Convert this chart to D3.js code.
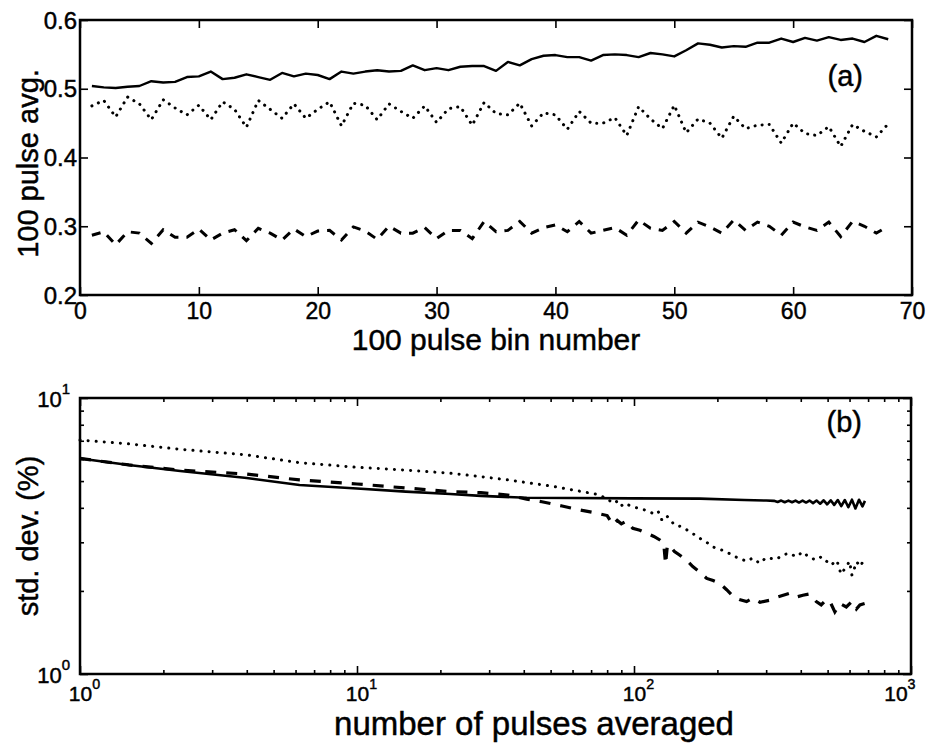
<!DOCTYPE html>
<html>
<head>
<meta charset="utf-8">
<script src="https://cdn.jsdelivr.net/npm/d3@7"></script>
<style>
  html, body { margin: 0; padding: 0; background: #fff; }
  svg { display: block; font-family: "Liberation Sans", Arial, Helvetica, sans-serif; }
  svg text { stroke: #000; stroke-width: 0.45px; fill: #000; }
</style>
</head>
<body>
<svg id="chart" width="928" height="744"></svg>
<script>
// ---------- Panel (a) data: 100 pulse bin number vs 100 pulse avg ----------
const binNumber = d3.range(1, 69);
const solidA = [0.504,0.502,0.501,0.503,0.504,0.511,0.509,0.510,0.517,0.518,
  0.525,0.514,0.516,0.521,0.517,0.513,0.523,0.518,0.522,0.520,
  0.514,0.525,0.522,0.525,0.527,0.525,0.526,0.534,0.527,0.530,
  0.527,0.532,0.533,0.533,0.526,0.539,0.534,0.543,0.548,0.549,
  0.546,0.546,0.541,0.549,0.550,0.549,0.546,0.552,0.550,0.547,
  0.556,0.566,0.564,0.560,0.562,0.561,0.567,0.567,0.573,0.568,
  0.574,0.570,0.575,0.571,0.573,0.568,0.577,0.572];
const dottedA = [0.475,0.483,0.459,0.488,0.478,0.455,0.484,0.472,0.462,0.476,
  0.455,0.481,0.470,0.444,0.483,0.470,0.457,0.478,0.457,0.470,
  0.481,0.446,0.479,0.476,0.455,0.478,0.467,0.457,0.475,0.451,
  0.471,0.474,0.447,0.480,0.464,0.462,0.479,0.446,0.465,0.462,
  0.441,0.467,0.450,0.450,0.458,0.432,0.474,0.456,0.442,0.476,
  0.436,0.456,0.450,0.428,0.460,0.442,0.447,0.448,0.421,0.450,
  0.435,0.432,0.445,0.416,0.448,0.438,0.430,0.449];
const dashedA = [0.287,0.292,0.273,0.292,0.290,0.275,0.295,0.284,0.284,0.296,
  0.280,0.290,0.295,0.279,0.297,0.290,0.280,0.296,0.285,0.293,
  0.294,0.280,0.299,0.293,0.281,0.300,0.290,0.290,0.298,0.282,
  0.294,0.294,0.282,0.307,0.292,0.294,0.307,0.290,0.298,0.302,
  0.292,0.307,0.290,0.294,0.298,0.287,0.309,0.297,0.294,0.307,
  0.290,0.306,0.299,0.290,0.309,0.294,0.306,0.300,0.287,0.306,
  0.299,0.294,0.306,0.285,0.307,0.300,0.290,0.300];
const xTicksA = [0,10,20,30,40,50,60,70];
const yTicksA = [0.2,0.3,0.4,0.5,0.6];

// ---------- Panel (b) data: number of pulses averaged vs std. dev. (%) ----------
const solidB = [[1,6.04],[1.5,5.72],[2.3,5.44],[4,5.13],[6.2,4.84],[10,4.70],[15,4.58],
  [21.7,4.49],[28,4.42],[41,4.35],[60,4.34],[100,4.33],[173,4.32],[250,4.27],[300,4.25],
  [320,4.24],[330,4.20],[340,4.25],[350,4.19],[361,4.25],[372,4.19],[383,4.25],[394,4.18],
  [406,4.25],[418,4.18],[430,4.25],[443,4.16],[456,4.25],[470,4.14],[484,4.26],[498,4.12],
  [513,4.26],[528,4.10],[544,4.27],[560,4.06],[577,4.27],[594,4.02],[612,4.28],[630,3.98],
  [649,4.28],[668,4.05],[682,4.24]];
const dottedB = [[1,7.04],[1.5,6.82],[2.3,6.52],[4,6.22],[6.2,5.83],[10,5.61],[15,5.48],
  [21.7,5.34],[28,5.19],[35,5.05],[50,4.80],[62,4.62],[73,4.48],[80,4.32],[84,4.15],
  [88,4.25],[91,4.05],[94,4.12],[100,4.02],[105,3.98],[110,3.92],[117,3.82],[122,3.90],
  [126,3.62],[131,3.75],[140,3.47],[148,3.42],[155,3.33],[165,3.20],[173,3.10],[183,3.00],
  [192,2.89],[204,2.83],[216,2.77],[228,2.68],[241,2.62],[255,2.56],[268,2.63],[284,2.52],
  [300,2.64],[326,2.60],[345,2.70],[364,2.74],[385,2.66],[407,2.77],[430,2.64],[455,2.59],
  [475,2.66],[514,2.48],[540,2.58],[559,2.30],[584,2.45],[600,2.56],[612,2.28],[637,2.55],
  [655,2.45],[670,2.55],[680,2.48]];
const dashedB = [[1,6.04],[1.5,5.72],[2.3,5.48],[4,5.30],[6.2,5.05],[10,4.88],[15,4.72],
  [21.7,4.58],[28,4.54],[35,4.45],[41,4.30],[46.5,4.21],[55,4.06],[63.6,3.93],[74,3.82],
  [80,3.75],[84,3.47],[87,3.60],[90,3.50],[94,3.58],[99,3.37],[105,3.32],[111,3.24],
  [118,3.15],[124,3.06],[128,2.98],[130,2.50],[132,2.93],[135,2.90],[140,2.78],[146,2.70],
  [155,2.58],[163,2.45],[172,2.35],[183,2.22],[193,2.18],[204,2.13],[216,2.02],[228,1.91],
  [240,1.86],[255,1.83],[268,1.88],[285,1.82],[309,1.85],[330,1.90],[364,1.96],[385,1.90],
  [407,1.93],[430,1.95],[455,1.83],[474,1.78],[495,1.86],[510,1.83],[531,1.68],[554,1.80],
  [584,1.75],[612,1.83],[635,1.72],[654,1.78],[680,1.80]];
const xMajorB = [1,10,100,1000];
const yMajorB = [1,10];

// ---------- drawing ----------
const svg = d3.select("#chart");
const FRAME_W = 2.5;

function frame(g, x0, y0, x1, y1) {
  g.append("rect").attr("x", x0).attr("y", y0)
    .attr("width", x1 - x0).attr("height", y1 - y0)
    .attr("fill", "none").attr("stroke", "#000").attr("stroke-width", FRAME_W);
}
function styleAxis(sel) {
  sel.select(".domain").remove();
  sel.attr("font-family", null);
  sel.selectAll(".tick line").attr("stroke", "#000").attr("stroke-width", 1.6);
}

// ===== Panel (a) =====
const A = {left: 80, right: 912, top: 20, bottom: 295};
const xA = d3.scaleLinear().domain([0, 70]).range([A.left, A.right]);
const yA = d3.scaleLinear().domain([0.2, 0.6]).range([A.bottom, A.top]);
const gA = svg.append("g");

gA.append("g").attr("transform", `translate(0,${A.bottom})`)
  .call(d3.axisBottom(xA).tickValues(xTicksA).tickSizeInner(-8).tickSizeOuter(0).tickPadding(8).tickFormat(d3.format("d")))
  .call(styleAxis)
  .call(s => s.selectAll("text").attr("font-size", 23).attr("y", 24).attr("dy", 0));
gA.append("g").attr("transform", `translate(0,${A.top})`)
  .call(d3.axisTop(xA).tickValues(xTicksA).tickSizeInner(-8).tickSizeOuter(0).tickFormat(""))
  .call(styleAxis);
gA.append("g").attr("transform", `translate(${A.left},0)`)
  .call(d3.axisLeft(yA).tickValues(yTicksA).tickSizeInner(-8).tickSizeOuter(0).tickPadding(3).tickFormat(d3.format(".1f")))
  .call(styleAxis)
  .call(s => s.selectAll("text").attr("font-size", 24).attr("dy", 8));
gA.append("g").attr("transform", `translate(${A.right},0)`)
  .call(d3.axisRight(yA).tickValues(yTicksA).tickSizeInner(-8).tickSizeOuter(0).tickFormat(""))
  .call(styleAxis);

const lineA = d3.line().x((d, i) => xA(binNumber[i])).y(d => yA(d));
gA.append("path").datum(solidA).attr("d", lineA)
  .attr("fill", "none").attr("stroke", "#000").attr("stroke-width", 2.4).attr("stroke-linejoin", "round");
gA.append("path").datum(dottedA).attr("d", lineA)
  .attr("fill", "none").attr("stroke", "#000").attr("stroke-width", 3)
  .attr("stroke-dasharray", "0.1,7").attr("stroke-linecap", "round");
gA.append("path").datum(dashedA).attr("d", lineA)
  .attr("fill", "none").attr("stroke", "#000").attr("stroke-width", 3)
  .attr("stroke-dasharray", "9,8");
frame(gA, A.left, A.top, A.right, A.bottom);

gA.append("text").attr("x", 863).attr("y", 86).attr("text-anchor", "end")
  .attr("font-size", 29).text("(a)");
gA.append("text").attr("x", (A.left + A.right) / 2).attr("y", 350).attr("text-anchor", "middle")
  .attr("font-size", 30).text("100 pulse bin number");
gA.append("text").attr("transform", `translate(38,${(A.top + A.bottom) / 2 + 6}) rotate(-90)`)
  .attr("text-anchor", "middle").attr("font-size", 29).text("100 pulse avg.");

// ===== Panel (b) =====
const B = {left: 80, right: 911, top: 398, bottom: 674};
const xB = d3.scaleLog().domain([1, 1000]).range([B.left, B.right]);
const yB = d3.scaleLog().domain([1, 10]).range([B.bottom, B.top]);
const gB = svg.append("g");

const minorX = [];
[1, 10, 100].forEach(dec => [2,3,4,5,6,7,8,9].forEach(m => minorX.push(dec * m)));
const minorY = [2,3,4,5,6,7,8,9];

function supLabel(sel, fs) {
  sel.each(function(d) {
    const t = d3.select(this);
    const e = Math.round(Math.log10(d));
    t.text("").attr("font-size", fs);
    t.append("tspan").text("10");
    t.append("tspan").attr("font-size", fs * 0.68).attr("dy", -fs * 0.55).text(e);
  });
}

// minor ticks
gB.append("g").attr("transform", `translate(0,${B.bottom})`)
  .call(d3.axisBottom(xB).tickValues(minorX).tickSizeInner(-4).tickSizeOuter(0).tickFormat(""))
  .call(styleAxis);
gB.append("g").attr("transform", `translate(0,${B.top})`)
  .call(d3.axisTop(xB).tickValues(minorX).tickSizeInner(-4).tickSizeOuter(0).tickFormat(""))
  .call(styleAxis);
gB.append("g").attr("transform", `translate(${B.left},0)`)
  .call(d3.axisLeft(yB).tickValues(minorY).tickSizeInner(-4).tickSizeOuter(0).tickFormat(""))
  .call(styleAxis);
gB.append("g").attr("transform", `translate(${B.right},0)`)
  .call(d3.axisRight(yB).tickValues(minorY).tickSizeInner(-4).tickSizeOuter(0).tickFormat(""))
  .call(styleAxis);
// major ticks
gB.append("g").attr("transform", `translate(0,${B.bottom})`)
  .call(d3.axisBottom(xB).tickValues(xMajorB).tickSizeInner(-8).tickSizeOuter(0).tickPadding(14))
  .call(styleAxis)
  .call(s => s.selectAll("text").attr("y", 27).attr("dy", 0).attr("dx", 4).call(supLabel, 21))
  .call(s => s.selectAll("text").filter(d => d === 1000).attr("text-anchor", "end").attr("dx", 4));
gB.append("g").attr("transform", `translate(0,${B.top})`)
  .call(d3.axisTop(xB).tickValues(xMajorB).tickSizeInner(-8).tickSizeOuter(0).tickFormat(""))
  .call(styleAxis);
gB.append("g").attr("transform", `translate(${B.left},0)`)
  .call(d3.axisLeft(yB).tickValues(yMajorB).tickSizeInner(-8).tickSizeOuter(0).tickPadding(10))
  .call(styleAxis)
  .call(s => s.selectAll("text").attr("dy", 8).call(supLabel, 22));
gB.append("g").attr("transform", `translate(${B.right},0)`)
  .call(d3.axisRight(yB).tickValues(yMajorB).tickSizeInner(-8).tickSizeOuter(0).tickFormat(""))
  .call(styleAxis);

const lineB = d3.line().x(d => xB(d[0])).y(d => yB(d[1]));
gB.append("path").datum(solidB).attr("d", lineB)
  .attr("fill", "none").attr("stroke", "#000").attr("stroke-width", 2.6).attr("stroke-linejoin", "round");
gB.append("path").datum(dottedB).attr("d", lineB)
  .attr("fill", "none").attr("stroke", "#000").attr("stroke-width", 3)
  .attr("stroke-dasharray", "0.1,8").attr("stroke-linecap", "round");
gB.append("path").datum(dashedB).attr("d", lineB)
  .attr("fill", "none").attr("stroke", "#000").attr("stroke-width", 3.2)
  .attr("stroke-dasharray", "11,10");
frame(gB, B.left, B.top, B.right, B.bottom);

gB.append("text").attr("x", 862).attr("y", 432).attr("text-anchor", "end")
  .attr("font-size", 29).text("(b)");
gB.append("text").attr("x", 534).attr("y", 735).attr("text-anchor", "middle")
  .attr("font-size", 33).text("number of pulses averaged");
gB.append("text").attr("transform", `translate(38,${(B.top + B.bottom) / 2}) rotate(-90)`)
  .attr("text-anchor", "middle").attr("font-size", 29).text("std. dev. (%)");
</script>
</body>
</html>
